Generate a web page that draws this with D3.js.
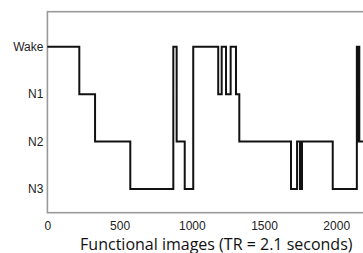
<!DOCTYPE html>
<html>
<head>
<meta charset="utf-8">
<script src="https://cdn.jsdelivr.net/npm/d3@7"></script>
<style>
  html, body { margin: 0; padding: 0; background: #fff; }
  svg { display: block; }
</style>
</head>
<body>
<div id="chart"></div>
<script>
// ---- Data ----
const stageLevels = ["Wake", "N1", "N2", "N3"];
const epochStarts = [0, 221, 330, 574, 872, 895, 951, 1010, 1183, 1207, 1237, 1269, 1306, 1329,
                     1687, 1729, 1749, 1763, 1976, 2143, 2147, 2150, 2153, 2156, 2160, 2400];
const epochStages = ["Wake", "N1", "N2", "N3", "Wake", "N2", "N3", "Wake", "N1", "Wake", "N1", "Wake", "N1", "N2",
                     "N3", "N2", "N3", "N2", "N3", "Wake", "N2", "Wake", "N2", "Wake", "N2", "N2"];
const xTickValues = [0, 500, 1000, 1500, 2000];
const xTitle = "Functional images (TR = 2.1 seconds)";

// ---- Layout ----
const W = 363, H = 253;
const mLeft = 47.4, mTop = 11.7, mBottom = 212.7;

const svg = d3.select("#chart").append("svg").attr("width", W).attr("height", H);

const x = d3.scaleLinear().domain([0, 2400]).range([mLeft, mLeft + 2400 * 0.1444]);
const y = d3.scalePoint().domain(stageLevels).range([46.7, 189]);

// frame
svg.append("rect")
  .attr("x", mLeft).attr("y", mTop)
  .attr("width", x(2400) - mLeft + 20).attr("height", mBottom - mTop)
  .attr("fill", "none").attr("stroke", "#9a9a9a").attr("stroke-width", 1.6);

// x axis
const xAxis = svg.append("g")
  .attr("transform", `translate(0,${mBottom})`)
  .call(d3.axisBottom(x).tickValues(xTickValues).tickSize(0).tickPadding(9).tickFormat(d3.format("d")));
xAxis.select(".domain").remove();
xAxis.selectAll("text")
  .attr("font-family", "'Liberation Sans', Arial, sans-serif")
  .attr("font-size", 12).attr("fill", "#222");

// y axis
const yAxis = svg.append("g")
  .attr("transform", `translate(${mLeft},0)`)
  .call(d3.axisLeft(y).tickSize(0).tickPadding(4));
yAxis.select(".domain").remove();
yAxis.selectAll("text")
  .attr("font-family", "'Liberation Sans', Arial, sans-serif")
  .attr("font-size", 12).attr("fill", "#222");

// hypnogram
const pts = epochStarts.map((t, i) => ({ t, s: epochStages[i] }));
const line = d3.line().x(d => x(d.t)).y(d => y(d.s)).curve(d3.curveStepAfter);
svg.append("path")
  .datum(pts)
  .attr("d", line)
  .attr("fill", "none")
  .attr("stroke", "#111")
  .attr("stroke-width", 2)
  .attr("stroke-linejoin", "miter");

// x title
svg.append("text")
  .attr("x", 216.3).attr("y", 249.5)
  .attr("text-anchor", "middle")
  .attr("font-family", "'Open Sans', Lato, sans-serif")
  .attr("font-size", 16)
  .attr("fill", "#111")
  .text(xTitle);
</script>
</body>
</html>
